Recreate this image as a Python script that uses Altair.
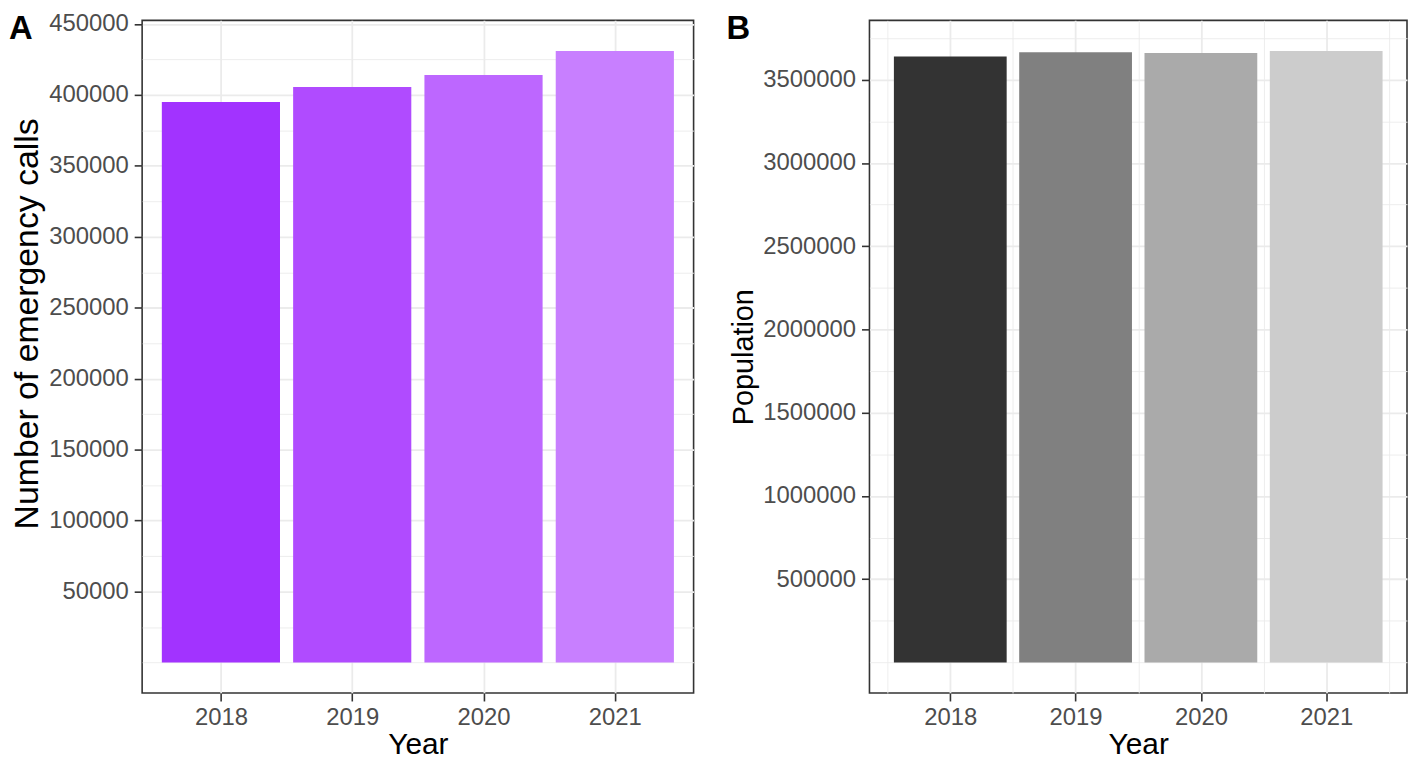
import altair as alt
import pandas as pd

years = [2018, 2019, 2020, 2021]
calls = [395000, 405500, 414000, 431000]
population = [3640000, 3665000, 3660000, 3673000]
purple_colors = ["#A233FF", "#B04BFF", "#BD67FF", "#C87FFF"]
grey_colors = ["#333333", "#808080", "#AAAAAA", "#CCCCCC"]

calls_ticks = list(range(0, 450001, 25000))
pop_ticks = list(range(0, 3750001, 250000))
yearsA_ticks = years
yearsB_ticks = [2017.5, 2018, 2018.5, 2019, 2019.5, 2020, 2020.5, 2021, 2021.5]

FONT = "Liberation Sans"
LABEL_SIZE = 24
X_TITLE_SIZE = 30
GRID = "#EBEBEB"
H = 677

dfA = pd.DataFrame({"Year": years, "Calls": calls})
dfB = pd.DataFrame({"Year": years, "Population": population})


def y_axis(title, step, values, title_size, **kw):
    test = f"datum.value % {step} === 0 && datum.value > 0"
    return alt.Axis(
        title=title,
        values=values,
        format="d",
        labelExpr=f"({test}) ? datum.label : ''",
        tickOpacity={"condition": {"test": test, "value": 1}, "value": 0},
        gridWidth={"condition": {"test": test, "value": 1.8}, "value": 0.9},
        grid=True,
        gridColor=GRID,
        domain=False,
        tickSize=8,
        tickWidth=1.6,
        tickColor="#333333",
        labelPadding=6,
        labelFontSize=LABEL_SIZE,
        labelColor="#4D4D4D",
        labelFont=FONT,
        titleFont=FONT,
        titleFontSize=title_size,
        titleFontWeight="normal",
        titleColor="#000000",
        titlePadding=4,
        **kw,
    )


def x_axis(values):
    test = "datum.value % 1 === 0"
    return alt.Axis(
        title="Year",
        values=values,
        labelExpr=f"({test}) ? format(datum.value, 'd') : ''",
        tickOpacity={"condition": {"test": test, "value": 1}, "value": 0},
        gridWidth={"condition": {"test": test, "value": 1.8}, "value": 0.9},
        grid=True,
        gridColor=GRID,
        domain=False,
        tickSize=8,
        tickWidth=1.6,
        tickColor="#333333",
        labelPadding=5,
        labelFontSize=LABEL_SIZE,
        labelColor="#4D4D4D",
        labelFont=FONT,
        titleFont=FONT,
        titleFontSize=X_TITLE_SIZE,
        titleFontWeight="normal",
        titleColor="#000000",
        titlePadding=0,
    )


barsA = (
    alt.Chart(dfA)
    .transform_calculate(x0="datum.Year - 0.45", x1="datum.Year + 0.45")
    .mark_bar()
    .encode(
        x=alt.X("x0:Q", scale=alt.Scale(domain=[2017.4, 2021.6], nice=False, zero=False),
                axis=x_axis(yearsA_ticks)),
        x2="x1:Q",
        y=alt.Y("Calls:Q", scale=alt.Scale(domain=[-21550, 452550], nice=False, zero=False),
                axis=y_axis("Number of emergency calls", 50000, calls_ticks, 34, titleY=305)),
        y2=alt.datum(0),
        color=alt.Color("Year:O", scale=alt.Scale(domain=years, range=purple_colors), legend=None),
    )
)
labelA = alt.Chart(alt.Data(values=[{"t": "A"}])).mark_text(
    font=FONT, fontSize=33, fontWeight="bold", align="left", baseline="top", color="#000000"
).encode(text="t:N", x=alt.value(-134), y=alt.value(-7))

chartA = alt.layer(barsA, labelA).properties(width=555, height=H)

barsB = (
    alt.Chart(dfB)
    .transform_calculate(x0="datum.Year - 0.45", x1="datum.Year + 0.45")
    .mark_bar()
    .encode(
        x=alt.X("x0:Q", scale=alt.Scale(domain=[2017.355, 2021.645], nice=False, zero=False),
                axis=x_axis(yearsB_ticks)),
        x2="x1:Q",
        y=alt.Y("Population:Q", scale=alt.Scale(domain=[-183650, 3856650], nice=False, zero=False),
                axis=y_axis("Population", 500000, pop_ticks, 29)),
        y2=alt.datum(0),
        color=alt.Color("Year:O", scale=alt.Scale(domain=years, range=grey_colors), legend=None),
    )
)
labelB = alt.Chart(alt.Data(values=[{"t": "B"}])).mark_text(
    font=FONT, fontSize=33, fontWeight="bold", align="left", baseline="top", color="#000000"
).encode(text="t:N", x=alt.value(-144), y=alt.value(-7))

chartB = alt.layer(barsB, labelB).properties(width=541, height=H)

chart = (
    alt.hconcat(chartA, chartB, spacing=31)
    .resolve_scale(color="independent", x="independent", y="independent")
    .properties(padding={"left": 0, "top": 0, "right": 0, "bottom": 0})
    .configure(background="white")
    .configure_view(stroke="#333333", strokeWidth=1.6)
)

chart.save("out.html", embed_options={"renderer": "svg", "actions": False})
